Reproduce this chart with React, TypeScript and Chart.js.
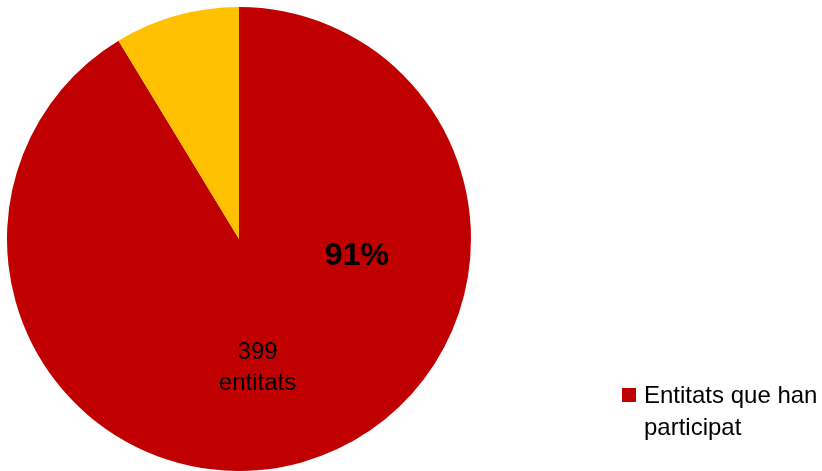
import React, { useEffect, useRef } from "react";
import { Chart, registerables } from "chart.js";

Chart.register(...registerables);

const categories = ["Entitats que han participat", "Entitats que no han participat"];
const values = [399, 38];
const colors = ["#C00000", "#FFC000"];
const percentLabel = "91%";
const countLabel = ["399", "entitats"];
const legendLines = ["Entitats que han", "participat"];

const FONT = "'Liberation Sans', Arial, sans-serif";

const labelsPlugin = {
  id: "customLabels",
  afterDatasetsDraw(chart: any) {
    const ctx = chart.ctx;
    const arc = chart.getDatasetMeta(0).data[0];
    if (!arc) return;
    const { x, y, outerRadius: R } = arc.getProps(["x", "y", "outerRadius"], true);
    ctx.save();
    ctx.fillStyle = "#000";
    ctx.textAlign = "center";
    ctx.textBaseline = "alphabetic";
    ctx.font = `bold 32px ${FONT}`;
    ctx.fillText(percentLabel, x + 0.508 * R, y + 0.112 * R);
    ctx.font = `24px ${FONT}`;
    ctx.fillText(countLabel[0], x + 0.08 * R, y + 0.517 * R);
    ctx.fillText(countLabel[1], x + 0.08 * R, y + 0.65 * R);

    // legend
    const lx = 622;
    const ly = 388;
    ctx.fillStyle = colors[0];
    ctx.fillRect(lx, ly, 14, 14);
    ctx.fillStyle = "#000";
    ctx.textAlign = "left";
    ctx.font = `24px ${FONT}`;
    ctx.fillText(legendLines[0], lx + 22, 403);
    ctx.fillText(legendLines[1], lx + 22, 435);
    ctx.restore();
  },
};

export default function App() {
  const ref = useRef<HTMLCanvasElement>(null);
  useEffect(() => {
    if (!ref.current) return;
    const chart = new Chart(ref.current, {
      type: "pie",
      data: {
        labels: categories,
        datasets: [
          {
            data: values,
            backgroundColor: colors,
            borderWidth: 0,
          },
        ],
      },
      options: {
        animation: false,
        responsive: false,
        layout: { padding: { left: 7, top: 7, right: 351, bottom: 0 } },
        plugins: {
          legend: { display: false },
          tooltip: { enabled: false },
        },
      },
      plugins: [labelsPlugin],
    });
    return () => chart.destroy();
  }, []);
  return (
    <div style={{ position: "fixed", left: 0, top: 0, width: 822, height: 471, background: "#fff" }}>
      <canvas ref={ref} width={822} height={471} style={{ width: 822, height: 471 }} />
    </div>
  );
}
